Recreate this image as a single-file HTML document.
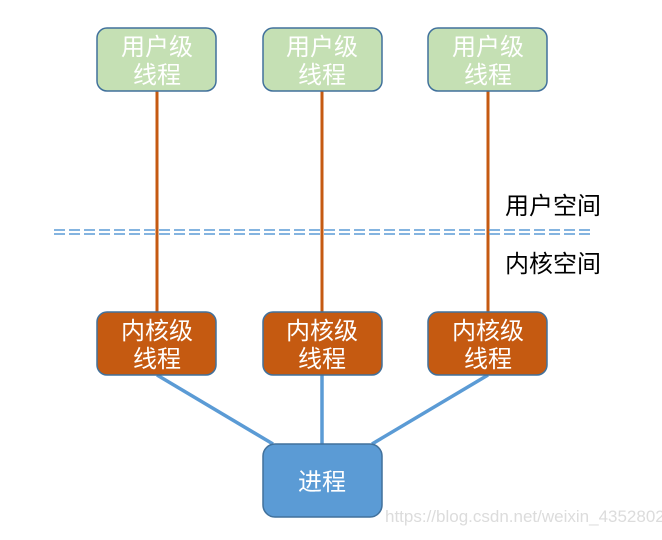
<!DOCTYPE html>
<html><head><meta charset="utf-8"><style>
body{margin:0;background:#fff;}
svg text{font-family:"Liberation Sans","Noto Sans CJK SC",sans-serif;}
</style></head><body>
<svg width="662" height="535" viewBox="0 0 662 535" xmlns="http://www.w3.org/2000/svg">
<g stroke="#c55a11" stroke-width="3">
<line x1="157" y1="91" x2="157" y2="312"/>
<line x1="322" y1="91" x2="322" y2="312"/>
<line x1="488" y1="91" x2="488" y2="312"/>
</g>
<g stroke="#5b9bd5" stroke-width="1.5" stroke-dasharray="11,4">
<line x1="54" y1="230" x2="592" y2="230"/>
<line x1="54" y1="234" x2="592" y2="234"/>
</g>
<g stroke="#5b9bd5" stroke-width="3.5">
<line x1="157" y1="375" x2="273" y2="444"/>
<line x1="322" y1="375" x2="322" y2="444"/>
<line x1="488" y1="375" x2="372" y2="444"/>
</g>
<g fill="#c5e0b4" stroke="#41719c" stroke-width="1.5">
<rect x="97" y="28" width="119" height="63" rx="10"/>
<rect x="263" y="28" width="119" height="63" rx="10"/>
<rect x="428" y="28" width="119" height="63" rx="10"/>
</g>
<g fill="#c55a11" stroke="#41719c" stroke-width="1.5">
<rect x="97" y="312" width="119" height="63" rx="10"/>
<rect x="263" y="312" width="119" height="63" rx="10"/>
<rect x="428" y="312" width="119" height="63" rx="10"/>
</g>
<rect x="263" y="444" width="119" height="73" rx="12" fill="#5b9bd5" stroke="#41719c" stroke-width="1.5"/>
<g fill="#fff" font-size="24" text-anchor="middle">
<text x="157" y="55">用户级</text><text x="157" y="83">线程</text>
<text x="322" y="55">用户级</text><text x="322" y="83">线程</text>
<text x="488" y="55">用户级</text><text x="488" y="83">线程</text>
<text x="157" y="339">内核级</text><text x="157" y="367">线程</text>
<text x="322" y="339">内核级</text><text x="322" y="367">线程</text>
<text x="488" y="339">内核级</text><text x="488" y="367">线程</text>
<text x="322" y="490">进程</text>
</g>
<g fill="#000" font-size="24">
<text x="505" y="214">用户空间</text>
<text x="505" y="272">内核空间</text>
</g>
<text x="385" y="522" font-size="17" fill="#dcdcdc">https://blog.csdn.net/weixin_43528025</text>
</svg>
</body></html>
